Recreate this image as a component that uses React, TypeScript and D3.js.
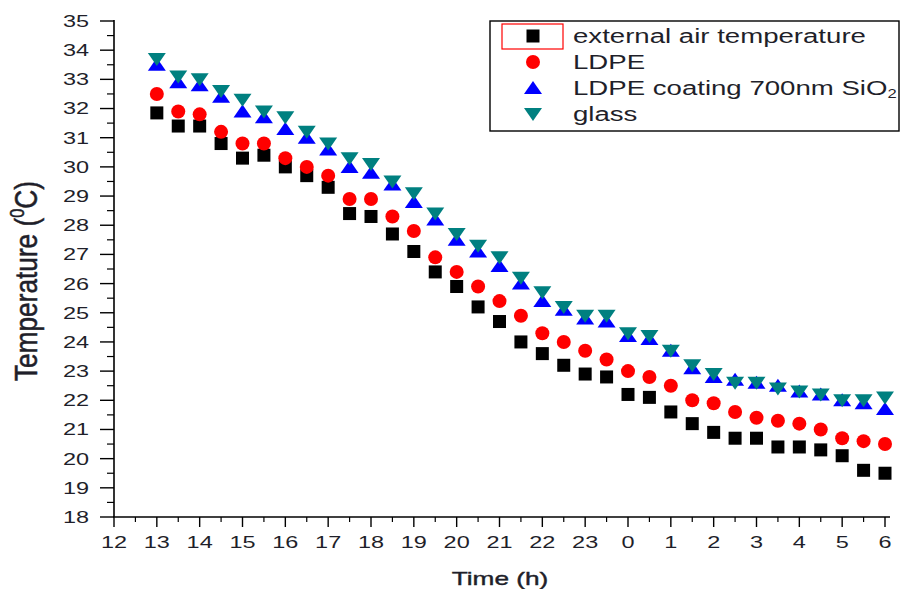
import React from "react";
import * as d3 from "d3";

const times = [13,13.5,14,14.5,15,15.5,16,16.5,17,17.5,18,18.5,19,19.5,20,20.5,21,21.5,22,22.5,23,23.5,24,24.5,25,25.5,26,26.5,27,27.5,28,28.5,29,29.5,30];
const external = [31.85,31.4,31.4,30.8,30.3,30.4,30.0,29.7,29.3,28.4,28.3,27.7,27.1,26.4,25.9,25.2,24.7,24.0,23.6,23.2,22.9,22.8,22.2,22.1,21.6,21.2,20.9,20.7,20.7,20.4,20.4,20.3,20.1,19.6,19.5];
const ldpe = [32.5,31.9,31.8,31.2,30.8,30.8,30.3,30.0,29.7,28.9,28.9,28.3,27.8,26.9,26.4,25.9,25.4,24.9,24.3,24.0,23.7,23.4,23.0,22.8,22.5,22.0,21.9,21.6,21.4,21.3,21.2,21.0,20.7,20.6,20.5];
const coated = [33.5,32.9,32.8,32.4,31.9,31.7,31.3,31.0,30.6,30.0,29.8,29.4,28.8,28.2,27.5,27.1,26.6,26.0,25.4,25.1,24.8,24.7,24.2,24.1,23.7,23.1,22.8,22.7,22.6,22.5,22.3,22.2,22.0,21.9,21.7];
const glass = [33.7,33.1,33.0,32.6,32.3,31.9,31.7,31.2,30.8,30.3,30.1,29.5,29.1,28.4,27.7,27.3,26.9,26.2,25.7,25.2,24.9,24.9,24.3,24.2,23.7,23.2,22.9,22.6,22.6,22.4,22.3,22.2,22.0,22.0,22.1];
const xTicks = [12,13,14,15,16,17,18,19,20,21,22,23,24,25,26,27,28,29,30];
const yTicks = [18,19,20,21,22,23,24,25,26,27,28,29,30,31,32,33,34,35];
const legendLabels = ["external air temperature", "LDPE", "LDPE coating 700nm SiO", "glass"];

const FONT = "'Liberation Sans', Arial, sans-serif";
const TXT = "#1f1f2a";
const SX = 1.38;

function Marker({ kind, x, y }: { kind: string; x: number; y: number }) {
  if (kind === "square") return <rect x={x - 6.5} y={y - 6.5} width={13} height={13} fill="#000" />;
  if (kind === "circle") return <circle cx={x} cy={y} r={7} fill="#ff0000" />;
  if (kind === "up") return <path d={`M${x},${y - 7}L${x + 9},${y + 6}L${x - 9},${y + 6}Z`} fill="#0000ff" />;
  return <path d={`M${x - 9},${y - 6}L${x + 9},${y - 6}L${x},${y + 7}Z`} fill="#008080" />;
}

export default function App() {
  const x = d3.scaleLinear().domain([12, 30]).range([114, 885]);
  const y = d3.scaleLinear().domain([18, 35]).range([517, 21]);
  const series = [
    { data: external, kind: "square" },
    { data: ldpe, kind: "circle" },
    { data: coated, kind: "up" },
    { data: glass, kind: "down" },
  ];
  const minorX = d3.range(12.5, 30, 1);
  const minorY = d3.range(18.5, 35, 1);
  return (
    <svg width={901} height={589} style={{ position: "absolute", left: 0, top: 0, background: "#fff" }} fontFamily={FONT}>
      {/* axes */}
      <line x1={114} x2={114} y1={20} y2={517} stroke="#000" strokeWidth={1.6} />
      <line x1={113} x2={890} y1={517} y2={517} stroke="#000" strokeWidth={1.6} />
      {yTicks.map((t) => (
        <g key={"yt" + t}>
          <line x1={100} x2={114} y1={y(t)} y2={y(t)} stroke="#000" strokeWidth={1.4} />
          <g transform={`translate(89,${y(t)}) scale(${SX},1)`}>
            <text x={0} y={0} dy="0.35em" textAnchor="end" fontSize={17} fill={TXT}>{t}</text>
          </g>
        </g>
      ))}
      {minorY.map((t) => (
        <line key={"ym" + t} x1={107} x2={114} y1={y(t)} y2={y(t)} stroke="#000" strokeWidth={1.2} />
      ))}
      {xTicks.map((t) => (
        <g key={"xt" + t}>
          <line x1={x(t)} x2={x(t)} y1={517} y2={527} stroke="#000" strokeWidth={1.4} />
          <g transform={`translate(${x(t)},542) scale(${SX},1)`}>
            <text x={0} y={0} dy="0.35em" textAnchor="middle" fontSize={17} fill={TXT}>{t % 24}</text>
          </g>
        </g>
      ))}
      {minorX.map((t) => (
        <line key={"xm" + t} x1={x(t)} x2={x(t)} y1={517} y2={522} stroke="#000" strokeWidth={1.2} />
      ))}
      <g transform={`translate(500,585) scale(${SX},1)`}>
        <text x={0} y={0} textAnchor="middle" fontSize={19} fill={TXT} stroke={TXT} strokeWidth={0.4}>Time (h)</text>
      </g>
      <g transform={`translate(37,281) scale(1.3,1) rotate(-90)`}>
        <text x={-100} y={0} fontSize={24} fill={TXT} stroke={TXT} strokeWidth={0.4} textLength={200} lengthAdjust="spacingAndGlyphs">
          Temperature (<tspan fontSize={15} dy={-10}>0</tspan><tspan dy={10}>C)</tspan>
        </text>
      </g>
      {/* data */}
      {series.map((s) =>
        s.data.map((v, i) => <Marker key={s.kind + i} kind={s.kind} x={x(times[i])} y={y(v)} />)
      )}
      {/* legend */}
      <rect x={490} y={21} width={409} height={110} fill="#fff" stroke="#000" strokeWidth={1.4} />
      <rect x={502} y={24} width={61} height={25} fill="none" stroke="#ff0000" strokeWidth={1.2} />
      {series.map((s, i) => (
        <g key={"lg" + i}>
          <Marker kind={s.kind} x={533} y={36 + i * 26} />
          <g transform={`translate(573,${36 + i * 26}) scale(${SX},1)`}>
            <text x={0} y={0} dy="0.35em" fontSize={20} fill={TXT}>
              {legendLabels[i]}
              {i === 2 ? <tspan fontSize={12} dy={3}>2</tspan> : null}
            </text>
          </g>
        </g>
      ))}
    </svg>
  );
}
